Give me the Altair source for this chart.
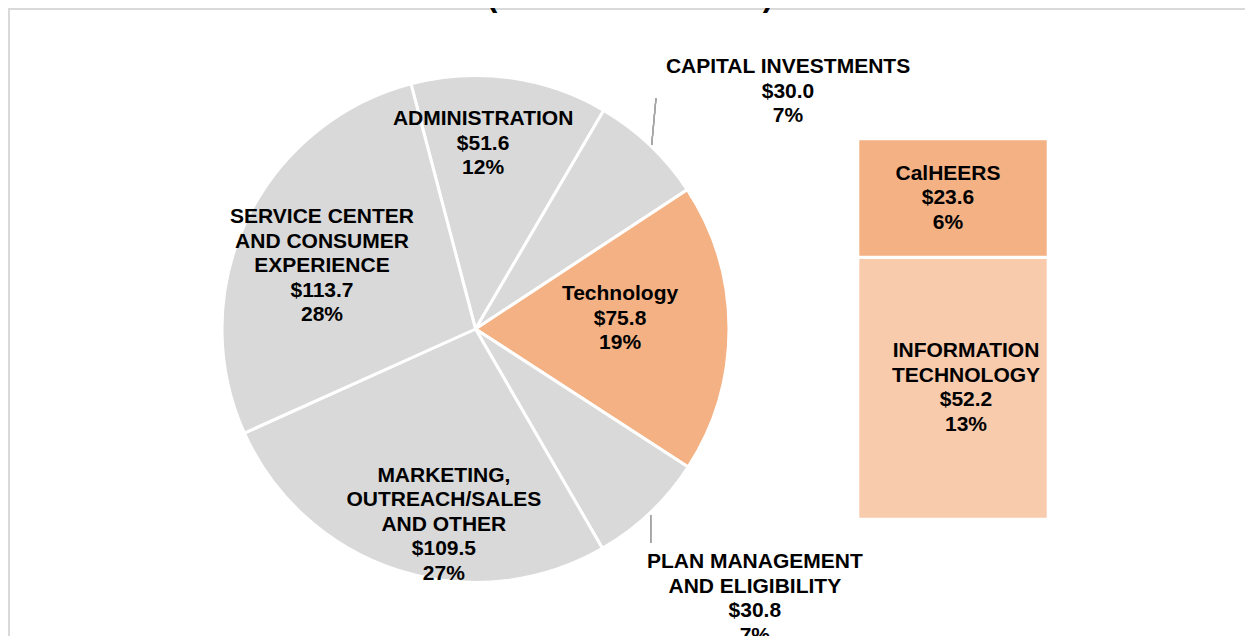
import math
import altair as alt
import pandas as pd

# ---------------- data ----------------
PIE_CATEGORIES = [
    "ADMINISTRATION",
    "CAPITAL INVESTMENTS",
    "Technology",
    "PLAN MANAGEMENT AND ELIGIBILITY",
    "MARKETING, OUTREACH/SALES AND OTHER",
    "SERVICE CENTER AND CONSUMER EXPERIENCE",
]
PIE_LABEL_NAMES = [
    "ADMINISTRATION",
    "CAPITAL INVESTMENTS",
    "Technology",
    "PLAN MANAGEMENT\nAND ELIGIBILITY",
    "MARKETING,\nOUTREACH/SALES\nAND OTHER",
    "SERVICE CENTER\nAND CONSUMER\nEXPERIENCE",
]
PIE_VALUES = [51.6, 30.0, 75.8, 30.8, 109.5, 113.7]
PIE_PCTS = [12, 7, 19, 7, 27, 28]

BAR_CATEGORIES = ["INFORMATION TECHNOLOGY", "CalHEERS"]
BAR_LABEL_NAMES = ["INFORMATION\nTECHNOLOGY", "CalHEERS"]
BAR_VALUES = [52.2, 23.6]
BAR_PCTS = [13, 6]

TITLE = "(Dollars in Millions)"

# ---------------- layout / style ----------------
W, H = 1237, 628
CX, CY = 467.5, 321.0          # pie centre (chart coords)
R_OUT = 253.5
START = math.radians(-14.75)    # first slice starts here (clockwise from 12 o'clock)
# anchor (first text line) of each pie label, in polar terms around the pie centre
LABEL_RADIUS = [210.1, 407.8, 148.7, 363.9, 150.3, 190.0]
LABEL_NUDGE_DEG = [-5.75, 6.5, -13.4, -6.6, -5.7, 10.6]

BAR_X0, BAR_X1 = 849.8, 1040.2
BAR_Y_RANGE = [511.2, 130.8]
BAR_LABEL_X = [958, 940]

GREY = "#D9D9D9"
ORANGE = "#F4B183"
LIGHT_ORANGE = "#F8CBAD"
COLOR_DOMAIN = PIE_CATEGORIES + BAR_CATEGORIES
COLOR_RANGE = [GREY, GREY, ORANGE, GREY, GREY, GREY, LIGHT_ORANGE, ORANGE]

FONT = "Liberation Sans"
FS = 21
LH = 24.5

# ---------------- tables ----------------
pie_df = pd.DataFrame({
    "cat": PIE_CATEGORIES,
    "value": PIE_VALUES,
    "order": list(range(len(PIE_VALUES))),
    "label": [f"{n}\n${v:.1f}\n{p}%" for n, v, p in zip(PIE_LABEL_NAMES, PIE_VALUES, PIE_PCTS)],
    "lr": LABEL_RADIUS,
    "nudge": LABEL_NUDGE_DEG,
})
bar_df = pd.DataFrame({
    "cat": BAR_CATEGORIES,
    "value": BAR_VALUES,
    "order": list(range(len(BAR_VALUES))),
    "label": [f"{n}\n${v:.1f}\n{p}%" for n, v, p in zip(BAR_LABEL_NAMES, BAR_VALUES, BAR_PCTS)],
})

color = alt.Color("cat:N", scale=alt.Scale(domain=COLOR_DOMAIN, range=COLOR_RANGE), legend=None)
theta_scale = alt.Scale(range=[START, START + 2 * math.pi])

arcs = alt.Chart(pie_df).mark_arc(
    outerRadius=R_OUT, stroke="white", strokeWidth=3
).encode(
    theta=alt.Theta("value:Q", stack=True, scale=theta_scale),
    order=alt.Order("order:Q", sort="ascending"),
    color=color,
    x=alt.value(CX),
    y=alt.value(CY),
)

text_style = dict(
    font=FONT, fontSize=FS, fontWeight="bold", lineBreak="\n", lineHeight=LH,
    align="center", baseline="middle", color="black"
)

pie_labels = alt.Chart(pie_df).transform_joinaggregate(
    total="sum(value)"
).transform_window(
    cum="sum(value)", sort=[alt.SortField("order", order="ascending")]
).transform_calculate(
    mid="datum.cum - datum.value / 2 + datum.nudge / 360 * datum.total"
).mark_text(**text_style).encode(
    theta=alt.Theta("mid:Q", scale=theta_scale),
    radius=alt.Radius("lr:Q", scale=None),
    text="label:N",
    x=alt.value(CX),
    y=alt.value(CY),
)

bar_y_scale = alt.Scale(range=BAR_Y_RANGE, nice=False, zero=True)

bar_base = alt.Chart(bar_df).transform_stack(
    stack="value", groupby=[], as_=["y0", "y1"],
    sort=[alt.SortField("order", order="ascending")]
).transform_calculate(mid="(datum.y0 + datum.y1) / 2")

bars = bar_base.mark_rect(stroke="white", strokeWidth=3).encode(
    y=alt.Y("y0:Q", scale=bar_y_scale, axis=None),
    y2="y1:Q",
    color=color,
    x=alt.value(BAR_X0),
    x2=alt.value(BAR_X1),
)

bar_label_layers = []
for i, name in enumerate(BAR_LABEL_NAMES):
    n_lines = name.count("\n") + 3
    bar_label_layers.append(
        bar_base.transform_filter(f"datum.order == {i}").mark_text(
            dy=-(n_lines - 1) / 2 * LH, **text_style
        ).encode(
            y=alt.Y("mid:Q", scale=bar_y_scale, axis=None),
            x=alt.value(BAR_LABEL_X[i]),
            text="label:N",
        )
    )

leader_color = "#A6A6A6"
leader1 = alt.Chart(pie_df).mark_rule(color=leader_color, strokeWidth=1.2).encode(
    x=alt.value(648.0), y=alt.value(90.0), x2=alt.value(643.7), y2=alt.value(137.0)
)
leader2 = alt.Chart(pie_df).mark_rule(color=leader_color, strokeWidth=1.2).encode(
    x=alt.value(642.7), y=alt.value(507.0), x2=alt.value(642.7), y2=alt.value(535.0)
)

frame_top = alt.Chart(pie_df).mark_rule(color=GREY, strokeWidth=2).encode(
    x=alt.value(0), x2=alt.value(W), y=alt.value(1)
)
frame_left = alt.Chart(pie_df).mark_rule(color=GREY, strokeWidth=2).encode(
    x=alt.value(1), y=alt.value(0), y2=alt.value(H)
)

title = alt.Chart(pd.DataFrame({"t": [TITLE]})).mark_text(
    font=FONT, fontSize=31, fontWeight="bold", align="center", baseline="alphabetic", color="black"
).encode(
    text="t:N", x=alt.value(622), y=alt.value(-2)
)

chart = alt.layer(
    frame_top, frame_left, arcs, leader1, leader2, pie_labels, bars, *bar_label_layers, title
).properties(
    width=W, height=H, padding=0, autosize=alt.AutoSizeParams(type="none")
).configure_view(stroke="transparent")

chart.save("out.html", embed_options={"renderer": "svg", "actions": False})
